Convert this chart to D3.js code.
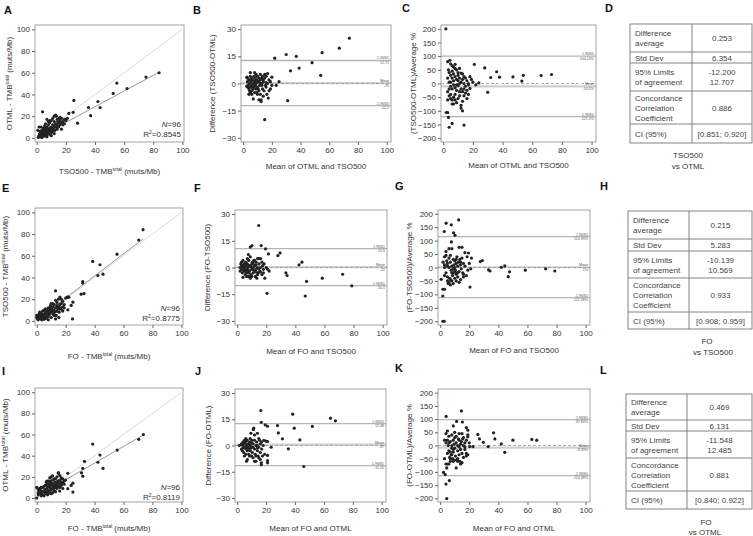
<!DOCTYPE html>
<html><head><meta charset="utf-8">
<script src="https://cdn.jsdelivr.net/npm/d3@7"></script>
<style>
body{margin:0;background:#fff}
svg{display:block}
text{font-family:"Liberation Sans",Arial,sans-serif;fill:#333}
</style>
</head><body>
<svg id="c" width="753" height="536"></svg>
<script>
// ---------------- DATA ----------------
const axisTicks = [0,20,40,60,80,100];
const diffTicks = [-30,-15,0,15,30];
const pctTicks = [-200,-150,-100,-50,0,50,100,150,200];
const identityLine = [[0,0],[100,100]];

// A: TSO500 (x) vs OTML (y)
const tmbA = [[84,60],[75,56],[62,45.5],[55,50.5],[52.5,41],[42,33.5],[43.5,28],[35.5,28],[37,20.5],[28,13.5],[25.5,34.5],[25,23.5],[22,22.5],[4,24],[3.5,0.3],
[2,1],[2.5,3],[3,2],[3,5],[3.5,7],[4,2.5],[4,4],[4.5,6],[5,3],[5,8],[5.5,5],[6,2],[6,4],[6,7],[6.5,9],[7,3],[7,6],[7,10],[7.5,5],[8,4],[8,8],[8,12],[8.5,6],[9,3],[9,9],[9,14],[9.5,7],[10,5],[10,10],[10,16],[10.5,8],[11,6],[11,12],[11.5,9],[12,4],[12,11],[12,15],[12.5,7],[13,10],[13,13],[13.5,20],[14,8],[14,12],[14,17],[14.5,15],[15,10],[15,14],[15.5,18],[16,12],[16,16],[17,14],[17,18],[18,15],[19,13],[19,17],[20,16],[1,0.5],[1.5,2],[2,4],[2.5,6],[3,10],[3.5,1],[4.5,9],[5,1.5],[5.5,11],[6,13],[7,17],[7,1],[8,15],[9,16],[10,2],[11,18],[12,20],[13,21],[16,19],[17,8],[20,17],[0.8,7],[1.6,10],[18,12],[21,18]];
const regA = [[1,0.5],[84,60.5]];
const statsA = ["96","0.8545"];

// B: mean vs difference (TSO500-OTML)
const baDiffB = [[22,14],[30,16],[37,15],[55,17],[67,19.5],[74,25],[33,7],[39,8.5],[48,11.5],[54,4.5],[31,-9.5],[15,-20],[25,1],[23,-1],[2.5,3.5],
[3,3],[3,1],[3.5,-1],[4,2],[4,-3],[4.5,0],[5,4],[5,-2],[5,-5],[5.5,1],[6,3],[6,-1],[6,-4],[6.5,2],[7,0],[7,-3],[7,-8.5],[7.5,4],[7.5,-2],[8,1],[8,-5],[8.5,3],[8.5,-1],[9,5],[9,0],[9,-3],[9.5,2],[10,-2],[10,4],[10.5,1],[11,-4],[11,3],[11.5,-1],[12,5],[12,-6],[12,2],[12.5,-10],[12.5,-9],[13,0],[13,3],[13.5,-3],[13.5,4],[14,-7],[14,1],[14.5,-4],[15,3],[15,5],[15.5,-1],[16,4],[16,-2],[16.5,-6],[17,5.5],[17,0],[17.5,-8],[18,2],[18,-4],[19,1],[19,-3],[20,3.5],[4,-6],[5,6],[6,-6],[8,6],[10,-6],[11,-9],[3,-2],[4.5,-4],[5.5,2.5],[6.5,-2.5],[9,1.5],[7,2],[8,-1.5],[10.5,-3],[12,0],[14,2],[11,1],[16,0.5],[13,-1],[9.5,-5],[20,-1],[2.5,-1.5]];
const limitsB = [12.707,0.253,-12.200];
const sdTextB = ["1.96SD","12.71","Mean",".25","-1.96SD","-12.2"];

// C: mean vs percent difference (TSO500-OTML)
const baPctC = [[1.8,200],[21,70],[28,57],[36,43],[32,22],[38,23],[47,24],[53,9],[54,30],[66,29],[73,33],[30,-32],[14,-152],[4,-160],[6,-146],[2,-106],[3,-106],[3.5,-124],
[3,80],[4.5,85],[5,72],[6,65],[7,60],[8,55],[3.5,50],[4,40],[5,30],[6,20],[7,35],[8,25],[9,15],[10,30],[11,20],[12,38],[13,35],[14,25],[15,20],[16,10],[17,0],[18,25],[19,15],[20,5],[22,-5],[24,2],[3,20],[4,5],[5,-10],[6,-20],[7,-5],[8,-15],[9,-25],[10,-8],[11,0],[12,-20],[13,-30],[14,-45],[15,-10],[16,-25],[17,-40],[18,-18],[3,-30],[4,-45],[5,-55],[6,-60],[7,-50],[8,-40],[9,-70],[10,-55],[11,-45],[12,-80],[12,-90],[13,-65],[14,-20],[6,-75],[7,-75],[4,-20],[5,5],[6,45],[8,70],[9,50],[10,10],[11,-30],[12,5],[13,15],[14,0],[15,-35],[16,-55],[17,-5],[3,-60],[7,10],[9,-5],[10,40],[11,55],[8,-60],[13,-100],[5,-40]];
const limitsC = [100.14,-10.5,-121.2];
const sdTextC = ["1.96SD","100.14%","Mean","-10.5%","-1.96SD","-121.2%"];

// E: FO (x) vs TSO500 (y)
const tmbE = [[73.5,84],[70.5,74.5],[55.5,61.5],[38.7,54.8],[43.7,51.7],[42.3,41.8],[45.8,43],[31.8,36.3],[31.8,34.8],[30.7,24.6],[32.7,25.2],[13,27.7],[25,17.2],[23.8,14.2],[24.7,1.8],[21.5,10.2],[21.5,21.8],[22.2,21.8],[15.3,3],[13,1.8],[8,1],
[0,5],[0,3],[0.5,2],[1,4],[1,1],[1.5,6],[2,3],[2,5],[2.5,2],[3,4],[3,7],[3.5,1],[4,5],[4,9],[4.5,3],[5,6],[5,10],[5.5,4],[6,8],[6,2],[6.5,7],[7,5],[7,10],[7.5,9],[8,4],[8,12],[8.5,7],[9,10],[9,6],[9.5,14],[10,8],[10,16],[10.5,11],[11,9],[11,13],[11.5,6],[12,10],[12,15],[12.5,8],[13,12],[13.5,5],[14,9],[14,14],[14.5,11],[15,13],[15,20],[15.5,8],[16,15],[16,22],[16.5,12],[17,16],[17.5,10],[18,13],[18,18],[19,15],[20,21],[21,22],[3,2],[5,1.5],[6,11],[2,8],[4,2],[8,9],[10,3],[12,5],[14,17],[17,20],[9,12],[11,16],[13,19],[7,3],[3.5,6],[16,11],[18,9],[19,12]];
const regE = [[0,0.8],[73.5,75.5]];
const statsE = ["96","0.8775"];

// F: mean vs difference (FO-TSO500)
const baDiffF = [[14.8,23.6],[7.7,7.3],[9,11.5],[10.2,12.3],[16.5,12.3],[19.5,10.5],[21.5,7.6],[28,6.7],[29.5,8.2],[20.5,-14.5],[33.5,-3],[34.3,-4.5],[42.5,1.5],[44.5,3],[47.7,-7.8],[46.8,-16],[58.5,-6],[72.5,-3.8],[78.8,-10.3],
[2,0],[2.5,2],[3,-1],[3,3],[3.5,-3],[4,1],[4,-5.5],[4.5,-2],[5,2],[5,0],[5.5,-4],[6,1],[6,3],[6.5,-1],[7,-3],[7,2],[7.5,0],[8,-5],[8,4],[8.5,-2],[9,1],[9,6],[9.5,-4],[10,2],[10,-1],[10.5,3],[11,-3],[11,0],[11.5,4],[12,-2],[12,1],[12.5,-5],[13,3],[13,-1],[13.5,-6],[14,5],[14,0],[14.5,-3],[15,5],[15,2],[15.5,-2],[16,5],[16,0],[17,3],[17,-4],[17.5,1],[18,-1],[18.5,2],[19,-6],[20,0],[21,-1],[22,-2],[3,1.5],[4,4],[5,-1.5],[6,-2.5],[7,5],[8,1],[9,-6],[10,-5],[11,2],[12,4],[13,1.5],[14,-4],[5.5,2.5],[6.5,-5],[2,-2],[16,-2.5],[18,-3],[8,-3],[3.5,0.5],[4.5,-1],[7.5,-1.5],[9.5,0.5],[11.5,-1.5],[13,-2.5],[15,-0.5]];
const limitsF = [10.569,0.215,-10.139];
const sdTextF = ["1.96SD","10.5","Mean",".22","-1.96SD","-10.1"];

// G: mean vs percent difference (FO-TSO500)
const baPctG = [[12.7,177],[4.1,165],[7.6,159],[2.8,134],[9.2,129],[1.8,-200],[2.8,-200],[1.8,-106],[1.8,-81],[3,-81],[0.7,-44],[20.5,-73],[27.6,22],[29,26],[33.3,-9],[34.3,-13],[42,1],[44.4,6],[47.7,-16],[46.8,-34],[58.5,-10],[72.5,-5],[78.8,-13],
[2,20],[3,0],[3,-30],[4,-20],[4,60],[4.5,25],[5,-50],[5,15],[5.5,-60],[6,0],[6,35],[6.5,-40],[7,20],[7,-65],[7.5,-10],[8,5],[8,70],[8.5,-30],[9,30],[9,-20],[9.5,10],[10,-40],[10,25],[10.5,-10],[11,15],[11,-25],[11.5,40],[12,5],[12,-35],[12.5,20],[13,-15],[13,75],[13.5,30],[14,-45],[14,10],[14.5,-5],[15,35],[15,75],[15.5,-20],[16,15],[16,-25],[17,5],[17,55],[18,-30],[18.5,40],[19,-10],[20,15],[21,-5],[3,40],[5,-35],[6,-55],[7,-45],[8,-50],[9,-5],[10,0],[11,-50],[12,-20],[13,-55],[6,70],[4,45],[5,5],[8,-20],[11,30],[14,20],[16,-35],[9,-60],[7,45],[3,10],[10,-15],[21.5,35],[19.5,54],[7.7,95],[10.2,120]];
const limitsG = [114.93,1,-112.28];
const sdTextG = ["1.96SD","114.93%","Mean","1%","-1.96SD","-112.28%"];

// I: FO (x) vs OTML (y)
const tmbI = [[73.7,60],[70.5,55.5],[55.6,45.3],[38.7,51],[43.7,40.6],[42.3,33.8],[45.8,28],[33,34.7],[31.8,28],[30.9,23.8],[31.8,20.6],[25,5.6],[23.8,11.9],[25,14],[21.5,8.8],[21.5,23.4],[14.9,23.4],[16,21.2],[15.8,6.6],[0,0],[0,10],
[1,8],[1,3],[2,5],[2,9],[3,4],[3,7],[4,3],[4,10],[5,6],[5,2],[5.5,8],[6,4],[6,12],[6.5,15],[7,5],[7,9],[7.5,3],[8,7],[8,11],[8.5,13],[9,6],[9,10],[9.5,16],[10,8],[10,12],[10,20],[10.5,14],[11,9],[11,17],[11.5,11],[12,7],[12,13],[12.5,15],[13,10],[13,18],[13.5,12],[14,9],[14,14],[14.5,16],[15,11],[15,24],[16,13],[16,17],[17,15],[17,12],[18,14],[18,18],[19,16],[20,17],[3,2],[4,6],[6,8],[7,13],[8,4],[9,15],[11,5],[12,18],[13,6],[14,20],[16,10],[17,19],[18,9],[2,7],[5,11],[7,16],[10,4],[1,5],[3,10],[8,16],[11,21],[15,15],[19,13],[6,6],[9,19],[12,10]];
const regI = [[0,1.5],[73.7,59.5]];
const statsI = ["96","0.8119"];

// J: mean vs difference (FO-OTML)
const baDiffJ = [[16.4,20],[38.4,17.9],[16.7,13.3],[19.4,11.8],[21,11],[27.9,11.4],[39.5,9.9],[52,10.9],[64.6,15.6],[68,14.1],[28.5,7.2],[31.3,3.8],[43.4,3.2],[35.4,-1.9],[46.1,-12],[23.5,-1],[21,2.3],[21,-5.7],[21,-8.6],[21,-9.9],[16.7,-9.9],[16.7,-11],
[1.5,0],[3,-2],[3,1],[3.5,-3],[4,2],[4,0],[4.5,-4],[5,1],[5,3],[5,-6],[5.5,-1],[6,2],[6,-2],[6.5,0],[6.5,-9],[7,3],[7,-3],[7.5,-1],[8,1],[8,-5],[8.5,2],[9,0],[9,-3],[9.5,7],[10,-1],[10,3],[10.5,-4],[11,1],[11,-7],[11.5,10],[12,-2],[12,3],[12.5,-5],[13,0],[13,-9],[13.5,2],[14,-3],[14,7],[14.5,-6],[15,4],[15,-1],[15.5,3],[16,-4],[16,1],[17,2],[17,-2],[18,0],[18.5,3],[19,-5],[20,2.5],[4,-1.5],[5.5,2],[6,-5],[7,-8],[8,-2],[9,4],[10,-6],[11,-1],[12,6],[13,-6],[14,0],[15,-7],[16,-8],[8.5,-6],[3,0.5],[4.5,1],[7,0.5],[9.5,-1.5],[12,-9],[10,1.5],[6,4],[11.2,9.2],[14,-1.5],[17.5,-6]];
const limitsJ = [12.485,0.469,-11.548];
const sdTextJ = ["1.96SD","12.48","Mean",".47","-1.96SD","-11.55"];

// K: mean vs percent difference (FO-OTML)
const baPctK = [[4.1,110],[14.6,131],[15.3,89],[11.3,91],[9,74],[18,68],[19,58],[25.9,42],[27,25],[29.7,12],[33,-4],[36.7,48],[37.6,25],[42,6],[44.4,-26],[50,20],[63,23],[66.4,20],[19,40],[19,33],[2.3,-102],[4,-146],[4.5,-201],[6.3,-133],[20.3,-4],[22.5,-4],
[3,-50],[3,20],[4,-70],[4,45],[4.5,-85],[5,-30],[5,55],[5.5,0],[6,-20],[6,35],[6.5,-45],[7,15],[7,-60],[7.5,-35],[8,0],[8,40],[8.5,-50],[9,20],[9,-25],[9.5,5],[10,-10],[10,30],[10.5,-40],[11,10],[11,-85],[11.5,-55],[12,-20],[12,0],[12.5,25],[13,-35],[13,45],[13.5,-60],[14,5],[14,-70],[14.5,15],[15,-30],[15,-65],[15.5,25],[16,0],[16,-45],[17,10],[17,-5],[18,-30],[18,-40],[19,-35],[3.5,-110],[5,-70],[6,-70],[7,-50],[8,-35],[9,-15],[10,50],[11,35],[12,-50],[13,20],[14,-15],[15,45],[16,30],[17,-15],[5,20],[6,10],[7,-25],[9,-60],[10,-55],[12,-60],[4,10],[8,-10],[13,-5],[18,20],[20,10]];
const limitsK = [97.84,-8.39,-114.38];
const sdTextK = ["1.96SD","97.84%","Mean","-8.39%","-1.96SD","-114.38%"];

// Tables
const tableRowLabels = [["Difference","average"],["Std Dev"],["95% Limits","of agreement"],["Concordance","Correlation","Coefficient"],["CI (95%)"]];
const tableD = [["0.253"],["6.354"],["-12.200","12.707"],["0.886"],["[0.851; 0.920]"]];
const tableH = [["0.215"],["5.283"],["-10.139","10.569"],["0.933"],["[0.908; 0.959]"]];
const tableL = [["0.469"],["6.131"],["-11.548","12.485"],["0.881"],["[0.840; 0.922]"]];
const captionD = ["TSO500","vs OTML"];
const captionH = ["FO","vs TSO500"];
const captionL = ["FO","vs OTML"];

// ---------------- DRAWING ----------------
const svg = d3.select("#c");
const FS = 8;

function letter(t, x, y){
  svg.append("text").attr("x",x).attr("y",y).attr("font-size",11).attr("font-weight","bold").style("fill","#111").text(t);
}

function supText(sel, parts){
  // parts: [text, sup, text]
  sel.append("tspan").text(parts[0]);
  if(parts.length>1){
    sel.append("tspan").attr("font-size",5).attr("dy",-3).text(parts[1]);
    sel.append("tspan").attr("dy",3).text(parts[2]);
  }
}

function frameAxes(g, x, y, p, xt, yt){
  g.append("rect").attr("x",p.l).attr("y",p.t).attr("width",p.r-p.l).attr("height",p.b-p.t)
    .attr("fill","none").attr("stroke","#999").attr("stroke-width",0.9);
  const ax = g.append("g").attr("transform",`translate(0,${p.b})`)
    .call(d3.axisBottom(x).tickValues(xt).tickSize(3).tickPadding(2));
  const ay = g.append("g").attr("transform",`translate(${p.l},0)`)
    .call(d3.axisLeft(y).tickValues(yt).tickSize(3).tickPadding(2));
  [ax,ay].forEach(a=>{
    a.select(".domain").remove();
    a.selectAll("line").attr("stroke","#666");
    a.selectAll("text").attr("font-size",FS).style("fill","#333").attr("font-family","Liberation Sans, Arial, sans-serif");
  });
  // x title
  const xtEl = g.append("text").attr("x",(p.l+p.r)/2).attr("y",p.xty+3).attr("text-anchor","middle").attr("font-size",FS);
  supText(xtEl, p.xTitle);
  const ytEl = g.append("text").attr("transform",`translate(${p.ytx},${(p.t+p.b)/2}) rotate(-90)`)
    .attr("text-anchor","middle").attr("dy","0.35em").attr("font-size",FS);
  supText(ytEl, p.yTitle);
}

function scatterPanel(p, data, reg, stats){
  const x = d3.scaleLinear().domain([-1.2,101.1]).range([p.l,p.r]);
  const y = d3.scaleLinear().domain([-3.8,104]).range([p.b,p.t]);
  const g = svg.append("g");
  g.append("line").attr("x1",x(identityLine[0][0])).attr("y1",y(identityLine[0][1]))
    .attr("x2",x(identityLine[1][0])).attr("y2",y(identityLine[1][1])).attr("stroke","#d8d8d8").attr("stroke-width",1);
  g.append("line").attr("x1",x(reg[0][0])).attr("y1",y(reg[0][1]))
    .attr("x2",x(reg[1][0])).attr("y2",y(reg[1][1])).attr("stroke","#999").attr("stroke-width",1);
  frameAxes(g, x, y, p, axisTicks, axisTicks);
  g.selectAll("circle.pt").data(data).join("circle").attr("class","pt")
    .attr("cx",d=>x(d[0])).attr("cy",d=>y(d[1])).attr("r",1.6).attr("fill","#222");
  const n = g.append("text").attr("x",p.r-3).attr("y",p.ny).attr("text-anchor","end").attr("font-size",FS);
  n.append("tspan").attr("font-style","italic").text("N");
  n.append("tspan").text("="+stats[0]);
  const r = g.append("text").attr("x",p.r-3).attr("y",p.ny+10).attr("text-anchor","end").attr("font-size",FS);
  r.append("tspan").text("R");
  r.append("tspan").attr("font-size",5).attr("dy",-3).text("2");
  r.append("tspan").attr("dy",3).text("="+stats[1]);
}

function baPanel(p, data, limits, sdText, ydom, yt){
  const x = d3.scaleLinear().domain([-1.5,103]).range([p.l,p.r]);
  const y = d3.scaleLinear().domain(ydom).range([p.b,p.t]);
  const g = svg.append("g");
  // limits
  g.append("line").attr("x1",p.l).attr("x2",p.r).attr("y1",y(limits[1])).attr("y2",y(limits[1]))
    .attr("stroke","#cfcfcf").attr("stroke-width",2.2);
  g.append("line").attr("x1",p.l).attr("x2",p.r).attr("y1",y(0)).attr("y2",y(0))
    .attr("stroke","#999").attr("stroke-width",0.8).attr("stroke-dasharray","3,2");
  [limits[0],limits[2]].forEach(v=>{
    g.append("line").attr("x1",p.l).attr("x2",p.r).attr("y1",y(v)).attr("y2",y(v))
      .attr("stroke","#b5b5b5").attr("stroke-width",1.3);
  });
  frameAxes(g, x, y, p, axisTicks, yt);
  g.selectAll("circle.pt").data(data).join("circle").attr("class","pt")
    .attr("cx",d=>x(d[0])).attr("cy",d=>y(d[1])).attr("r",1.6).attr("fill","#222");
  limits.forEach((v,i)=>{
    g.append("text").attr("x",p.r-2).attr("y",y(v)-1).attr("text-anchor","end").attr("font-size",3.6).style("fill","#555").text(sdText[i*2]);
    g.append("text").attr("x",p.r-2).attr("y",y(v)+3.6).attr("text-anchor","end").attr("font-size",3.6).style("fill","#555").text(sdText[i*2+1]);
  });
}

function tablePanel(t, values, caption){
  const g = svg.append("g");
  const rows = t.rows;
  g.append("rect").attr("x",t.l).attr("y",rows[0]).attr("width",t.r-t.l).attr("height",rows[rows.length-1]-rows[0])
    .attr("fill","none").attr("stroke","#777").attr("stroke-width",0.9);
  g.append("line").attr("x1",t.m).attr("x2",t.m).attr("y1",rows[0]).attr("y2",rows[rows.length-1]).attr("stroke","#777").attr("stroke-width",0.9);
  rows.slice(1,-1).forEach(ry=>{
    g.append("line").attr("x1",t.l).attr("x2",t.r).attr("y1",ry).attr("y2",ry).attr("stroke","#777").attr("stroke-width",0.9);
  });
  tableRowLabels.forEach((lines,i)=>{
    const c = (rows[i]+rows[i+1])/2;
    lines.forEach((s,j)=>{
      g.append("text").attr("x",t.l+5).attr("y",c+(j-(lines.length-1)/2)*10+3)
        .attr("font-size",FS).style("fill","#444").text(s);
    });
    const v = values[i];
    v.forEach((s,j)=>{
      g.append("text").attr("x",(t.m+t.r)/2).attr("y",c+(j-(v.length-1)/2)*10+3)
        .attr("text-anchor","middle").attr("font-size",FS).style("fill","#444").text(s);
    });
  });
  caption.forEach((s,j)=>{
    g.append("text").attr("x",t.cx[j]).attr("y",t.cy[j]+3).attr("text-anchor","middle").attr("font-size",FS).style("fill","#333").text(s);
  });
}

// Row 1
letter("A",4,14); letter("B",193,14); letter("C",402,12); letter("D",605,12);
scatterPanel({l:35,r:184,t:25,b:142,xty:171,ytx:9,ny:127,
  xTitle:["TSO500 - TMB","total"," (muts/Mb)"], yTitle:["OTML - TMB","total"," (muts/Mb)"]}, tmbA, regA, statsA);
baPanel({l:241,r:391,t:25,b:142,xty:166,ytx:212,
  xTitle:["Mean of OTML and TSO500"], yTitle:["Difference (TSO500-OTML)"]}, baDiffB, limitsB, sdTextB, [-32.3,32.3], diffTicks);
baPanel({l:441,r:596,t:25,b:142,xty:165,ytx:413,
  xTitle:["Mean of OTML and TSO500"], yTitle:["(TSO500-OTML)/Average %"]}, baPctC, limitsC, sdTextC, [-214,214], pctTicks);
tablePanel({l:630,m:692,r:752,rows:[24,52,63,91,124,143],cx:[688,688],cy:[155,166]}, tableD, captionD);

// Row 2
letter("E",2,192); letter("F",194,192); letter("G",395,190); letter("H",600,190);
scatterPanel({l:35,r:183,t:208,b:325,xty:356,ytx:5,ny:311,
  xTitle:["FO - TMB","total"," (muts/Mb)"], yTitle:["TSO500 - TMB","total"," (muts/Mb)"]}, tmbE, regE, statsE);
baPanel({l:235,r:387,t:210,b:325,xty:351,ytx:207,
  xTitle:["Mean of FO and TSO500"], yTitle:["Difference (FO-TSO500)"]}, baDiffF, limitsF, sdTextF, [-32.3,32.3], diffTicks);
baPanel({l:438,r:590,t:210,b:325,xty:350,ytx:409,
  xTitle:["Mean of FO and TSO500"], yTitle:["(FO-TSO500)/Average %"]}, baPctG, limitsG, sdTextG, [-214,214], pctTicks);
tablePanel({l:628,m:689,r:752,rows:[211,239,251,278,312,329],cx:[707,713],cy:[341,352]}, tableH, captionH);

// Row 3
letter("I",2,375); letter("J",195,375); letter("K",395,372); letter("L",600,374);
scatterPanel({l:35,r:183,t:388,b:502,xty:528,ytx:5,ny:490,
  xTitle:["FO - TMB","total"," (muts/Mb)"], yTitle:["OTML - TMB","total"," (muts/Mb)"]}, tmbI, regI, statsI);
baPanel({l:235,r:386,t:389,b:502,xty:528,ytx:208,
  xTitle:["Mean of FO and OTML"], yTitle:["Difference (FO-OTML)"]}, baDiffJ, limitsJ, sdTextJ, [-32.3,32.3], diffTicks);
baPanel({l:438,r:590,t:389,b:502,xty:528,ytx:409,
  xTitle:["Mean of FO and OTML"], yTitle:["(FO-OTML)/Average %"]}, baPctK, limitsK, sdTextK, [-214,214], pctTicks);
tablePanel({l:626,m:687,r:752,rows:[394,420,431,458,491,509],cx:[706,705],cy:[522,532]}, tableL, captionL);
</script>
</body></html>
